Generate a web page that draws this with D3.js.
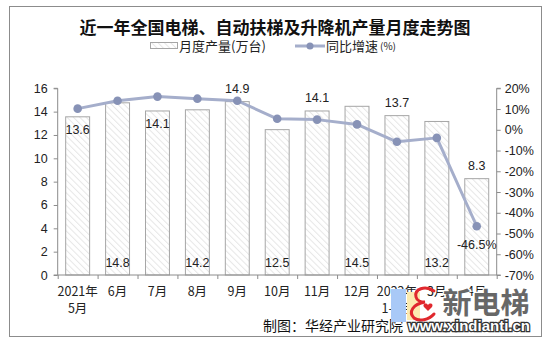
<!DOCTYPE html>
<html>
<head>
<meta charset="utf-8">
<script src="https://cdn.jsdelivr.net/npm/d3@7/dist/d3.min.js"></script>
<style>
  html, body { margin: 0; padding: 0; background: #fff; }
  svg { display: block; }
  text { font-family: "Liberation Sans", Arial, "Noto Sans CJK SC", sans-serif; }
  .cjk { font-family: "Noto Sans CJK SC", "Liberation Sans", sans-serif; }
</style>
</head>
<body>
<svg id="chart" width="546" height="345"></svg>
<script>
// Monthly output of elevators, escalators and lifts, with year-on-year growth
const months = ["2021年|5月", "6月", "7月", "8月", "9月", "10月", "11月", "12月", "2022年|1-2月", "3月", "4月"];
const output = [13.6, 14.8, 14.1, 14.2, 14.9, 12.5, 14.1, 14.5, 13.7, 13.2, 8.3];      // 万台
const growth = [10.2, 14.0, 16.0, 15.0, 14.0, 5.3, 4.9, 2.6, -5.8, -3.9, -46.5];      // %
const leftTicks = [0, 2, 4, 6, 8, 10, 12, 14, 16];
const rightTicks = [20, 10, 0, -10, -20, -30, -40, -50, -60, -70];

// where each bar's value label sits relative to its bar
const labelPlace = ["inside", "bottom", "inside", "bottom", "above", "bottom", "above", "bottom", "above", "bottom", "above"];

const svg = d3.select("#chart");
const plot = { left: 57.7, right: 496.7, top: 88.3, bottom: 275 };

// outer frame
svg.append("rect").attr("x", 9.5).attr("y", 6.5).attr("width", 532).attr("height", 330)
  .attr("fill", "#fff").attr("stroke", "#8c8c8c").attr("stroke-width", 1);

// light diagonal hatch for the bars
const defs = svg.append("defs");
const pat = defs.append("pattern").attr("id", "hatch").attr("patternUnits", "userSpaceOnUse")
  .attr("width", 4.5).attr("height", 4.5).attr("patternTransform", "rotate(-45)");
pat.append("rect").attr("width", 4.5).attr("height", 4.5).attr("fill", "#fff");
pat.append("line").attr("x1", 0).attr("y1", 0).attr("x2", 0).attr("y2", 4.5)
  .attr("stroke", "#e6e6e6").attr("stroke-width", 2);

const x = d3.scaleBand().domain(months).range([plot.left, plot.right])
  .paddingInner(0.375).paddingOuter(0.1875);
const y = d3.scaleLinear().domain([0, 16]).range([plot.bottom, plot.top]);
const y2 = d3.scaleLinear().domain([-70, 20]).range([plot.bottom, plot.top]);

const axisColor = "#8c8c8c";
const tickText = "#222";

// bars
svg.append("g").selectAll("rect").data(output).join("rect")
  .attr("x", (d, i) => x(months[i]) + 0.5)
  .attr("y", d => y(d) + 0.5)
  .attr("width", x.bandwidth() - 1)
  .attr("height", d => y(0) - y(d) - 0.5)
  .attr("fill", "url(#hatch)")
  .attr("stroke", "#a6a6a6").attr("stroke-width", 1);

// left axis
const gL = svg.append("g").attr("transform", `translate(${plot.left},0)`)
  .call(d3.axisLeft(y).tickValues(leftTicks).tickSize(4).tickPadding(6));
// right axis
const gR = svg.append("g").attr("transform", `translate(${plot.right},0)`)
  .call(d3.axisRight(y2).tickValues(rightTicks).tickSize(4).tickPadding(4).tickFormat(d => d + "%"));
// bottom axis with ticks between categories
const xb = d3.scaleLinear().domain([0, months.length]).range([plot.left, plot.right]);
const gB = svg.append("g").attr("transform", `translate(0,${plot.bottom})`)
  .call(d3.axisBottom(xb).tickValues(d3.range(months.length + 1)).tickSize(4).tickFormat(""));

[gL, gR, gB].forEach(g => {
  g.select(".domain").attr("stroke", axisColor);
  g.selectAll(".tick line").attr("stroke", axisColor);
  g.selectAll(".tick text").attr("fill", tickText).attr("font-size", 12.5)
    .style("font-family", "'Liberation Sans', Arial, sans-serif");
});
gL.select(".domain").attr("d", `M-4,${plot.top}H0V${plot.bottom}H-4`);
gR.select(".domain").attr("d", `M4,${plot.top}H0V${plot.bottom}H4`);
gB.select(".domain").attr("d", `M${plot.left},0H${plot.right}`);

// category labels (two lines where needed)
const catG = svg.append("g");
months.forEach((m, i) => {
  const parts = m.split("|");
  const cx = x(m) + x.bandwidth() / 2;
  parts.forEach((p, j) => {
    catG.append("text").attr("class", "cjk")
      .attr("x", cx).attr("y", 296 + j * 16.5)
      .attr("text-anchor", "middle").attr("font-size", 12.5).attr("fill", tickText)
      .text(p);
  });
});

// growth line
const line = d3.line().x((d, i) => x(months[i]) + x.bandwidth() / 2).y(d => y2(d));
svg.append("path").datum(growth).attr("d", line)
  .attr("fill", "none").attr("stroke", "#a5aecb").attr("stroke-width", 3)
  .attr("stroke-linejoin", "round");
svg.append("g").selectAll("circle").data(growth).join("circle")
  .attr("cx", (d, i) => x(months[i]) + x.bandwidth() / 2)
  .attr("cy", d => y2(d)).attr("r", 4.3).attr("fill", "#8792b6");

// bar value labels
svg.append("g").selectAll("text").data(output).join("text")
  .attr("x", (d, i) => x(months[i]) + x.bandwidth() / 2)
  .attr("y", (d, i) => {
    const p = labelPlace[i];
    if (p === "inside") return y(d) + 17.5;
    if (p === "above") return y(d) - 8.5;
    return plot.bottom - 8.5;
  })
  .attr("text-anchor", "middle").attr("font-size", 12.5).attr("fill", "#222")
  .text(d => d.toFixed(1));

// label for the last growth point
const li = growth.length - 1;
svg.append("text")
  .attr("x", x(months[li]) + x.bandwidth() / 2).attr("y", y2(growth[li]) + 23)
  .attr("text-anchor", "middle").attr("font-size", 12.5).attr("fill", "#222")
  .text(growth[li].toFixed(1) + "%");

// title
svg.append("text").attr("class", "cjk").attr("x", 275).attr("y", 34)
  .attr("text-anchor", "middle").attr("font-size", 17).attr("font-weight", "bold").attr("fill", "#111")
  .text("近一年全国电梯、自动扶梯及升降机产量月度走势图");

// legend
const lg = svg.append("g");
lg.append("rect").attr("x", 150.5).attr("y", 42.5).attr("width", 27).attr("height", 6)
  .attr("fill", "url(#hatch)").attr("stroke", "#a6a6a6");
lg.append("text").attr("class", "cjk").attr("x", 179).attr("y", 51)
  .attr("font-size", 13).attr("fill", "#222").text("月度产量(万台)");
lg.append("line").attr("x1", 295).attr("x2", 325).attr("y1", 46).attr("y2", 46)
  .attr("stroke", "#a5aecb").attr("stroke-width", 3);
lg.append("circle").attr("cx", 310).attr("cy", 46).attr("r", 3.5).attr("fill", "#8792b6");
lg.append("text").attr("class", "cjk").attr("x", 326).attr("y", 51)
  .attr("font-size", 13).attr("fill", "#222").text("同比增速");
lg.append("text").attr("class", "cjk").attr("x", 380).attr("y", 50)
  .attr("font-size", 10).attr("fill", "#222").text("(%)");

// source note
svg.append("text").attr("class", "cjk").attr("x", 263).attr("y", 331)
  .attr("font-size", 14).attr("fill", "#111").text("制图：华经产业研究院");

// site watermark
const wm = svg.append("g");
wm.append("rect").attr("x", 391).attr("y", 289).attr("width", 15).attr("height", 33).attr("fill", "#a9c9f7");
wm.append("rect").attr("x", 407).attr("y", 292).attr("width", 13).attr("height", 28).attr("fill", "#fcebb0");
wm.append("path")
  .attr("d", "M434,291 C425,285 414,289 416,297 C417,301 421,302 425,302 C413,304 408,312 414,318 C419,322 429,320 434,314")
  .attr("fill", "none").attr("stroke", "#e0282e").attr("stroke-width", 3).attr("stroke-linecap", "round");
wm.append("path")
  .attr("d", "M428,305 c-2,-3 -6,-1 -4,2 l4,4 l4,-4 c2,-3 -2,-5 -4,-2z")
  .attr("fill", "#e0282e");
wm.append("text").attr("class", "cjk").attr("x", 486).attr("y", 314)
  .attr("text-anchor", "middle").attr("font-size", 29).attr("font-weight", "bold")
  .attr("fill", "#676767").attr("stroke", "#fff").attr("stroke-width", 2.5).attr("paint-order", "stroke")
  .text("新电梯");
wm.append("text").attr("x", 469).attr("y", 331)
  .attr("text-anchor", "middle").attr("font-size", 15).attr("font-weight", "bold")
  .attr("fill", "#fff").attr("stroke", "#333").attr("stroke-width", 2.5).attr("paint-order", "stroke")
  .text("www.xindianti.cn");
</script>
</body>
</html>
